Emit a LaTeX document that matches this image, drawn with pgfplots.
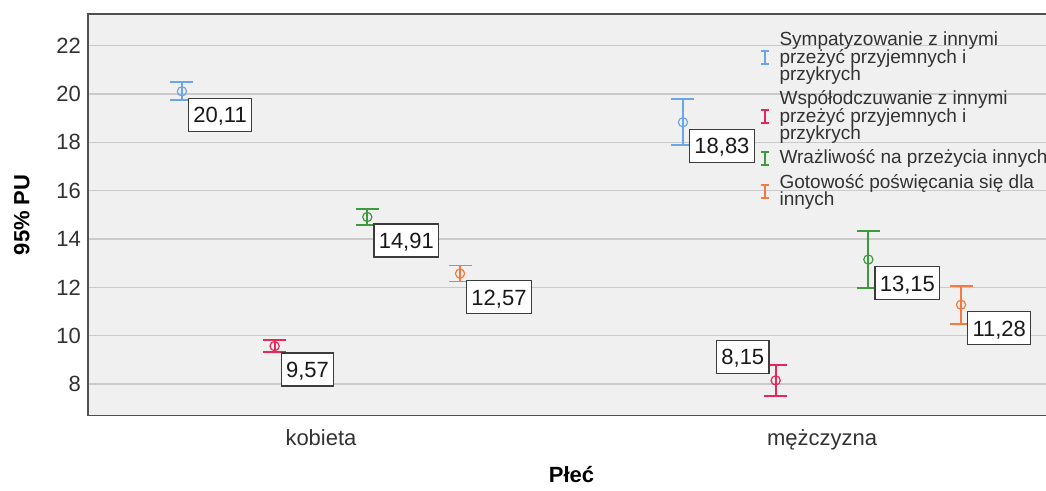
\documentclass[border=0pt]{standalone}
\usepackage{pgfplots}
\pgfplotsset{compat=1.18}
\usepackage{fontspec}
\setmainfont{Liberation Sans}
\definecolor{cblue}{RGB}{107,164,232}
\definecolor{cred}{RGB}{229,39,90}
\definecolor{cgreen}{RGB}{62,154,62}
\definecolor{corange}{RGB}{246,121,63}
\definecolor{bgc}{RGB}{240,240,240}
\definecolor{gridc}{RGB}{202,202,202}
\definecolor{framec}{RGB}{80,80,80}
\definecolor{tickc}{RGB}{50,50,50}
\definecolor{labfr}{RGB}{60,60,60}
\newcommand\legfont{\fontsize{9.5}{8.75}\selectfont\lineskiplimit=-20pt\relax\lineskip=0pt\relax}
\pgfplotsset{
  ebar/.style={only marks, mark=o, mark size=2.3pt,
    mark options={line width=0.6pt, solid, fill=none},
    error bars/y dir=both, error bars/y explicit,
    error bars/error bar style={line width=0.9pt},
    error bars/error mark options={rotate=90, mark size=5.75pt, line width=0.9pt}},
  lab/.style={point meta=y,
    nodes near coords={\pgfmathprintnumber[fixed,precision=2,fixed zerofill,use comma]{\pgfplotspointmeta}},
    nodes near coords style={anchor=north west, xshift=3pt, yshift=-3.2pt,
      draw=labfr, fill=white, line width=0.65pt, font=\fontsize{11}{13}\selectfont,
      text=black!90, inner xsep=2.4pt, inner ysep=4.3pt, text height=7.9pt, text depth=0pt}},
}
\begin{document}
\begin{tikzpicture}
\begin{axis}[
  at={(0,0)}, anchor=south west,
  scale only axis, width=483.5pt, height=200.85pt,
  xmin=-0.465, xmax=1.465, ymin=6.69, ymax=23.31,
  xtick={0,1}, xticklabels={kobieta,mężczyzna},
  ytick={8,10,...,22},
  major tick length=0pt,
  ymajorgrids, grid style={draw=gridc, line width=0.75pt},
  axis background/.style={fill=bgc},
  axis line style={draw=framec, line width=0.8pt},
  tick label style={font=\fontsize{11}{13}\selectfont, text=tickc},
  /pgf/number format/assume math mode=true,
  xticklabel style={yshift=-3.5pt},
  xlabel={Płeć}, ylabel={95\% PU},
  label style={font=\fontsize{11}{13}\selectfont\bfseries},
  xlabel style={at={(axis description cs:0.5,-0.1673)}, anchor=base},
  ylabel style={at={(axis description cs:-0.0605,0.5)}, anchor=base},
  legend image code/.code={\draw[#1,solid,line width=0.75pt] (-2pt,-3.25pt)--(2pt,-3.25pt) (0pt,-3.25pt)--(0pt,3.25pt) (-2pt,3.25pt)--(2pt,3.25pt);},
  legend cell align=left,
  legend style={at={(rel axis cs:0.695,0.9567)}, anchor=north west, draw=none, fill=none,
    inner sep=0pt, nodes={inner sep=0pt, text=tickc}, cells={align=left},
    font=\legfont, row sep=3.6pt, column sep=4.8pt},
]
\addplot[color=cblue, ebar, lab] coordinates {(-0.2775,20.11) +- (0,0.37) (0.7225,18.83) +- (0,0.95)};
\addlegendentry{Sympatyzowanie z innymi\\przeżyć przyjemnych i\\przykrych}
\addplot[color=cred, ebar] coordinates {(-0.0925,9.57) +- (0,0.26) (0.9075,8.15) +- (0,0.63)};
\addlegendentry{Współodczuwanie z innymi\\przeżyć przyjemnych i\\przykrych}
\addplot[color=cgreen, ebar, lab] coordinates {(0.0925,14.91) +- (0,0.34) (1.0925,13.15) +- (0,1.17)};
\addlegendentry{Wrażliwość na przeżycia innych}
\addplot[color=corange, ebar, lab] coordinates {(0.2775,12.57) +- (0,0.33) (1.2775,11.28) +- (0,0.79)};
\addlegendentry{Gotowość poświęcania się dla\\innych}
\addplot[forget plot, draw=none, mark=none, lab] coordinates {(-0.0925,9.57)};
\addplot[forget plot, draw=none, mark=none, lab, nodes near coords style={anchor=south east, xshift=-6pt, yshift=6.4pt}] coordinates {(0.9075,8.15)};
\end{axis}
\pgfresetboundingbox
\useasboundingbox (-44pt,-37.65pt) rectangle (479pt,207.85pt);
\end{tikzpicture}
\end{document}
